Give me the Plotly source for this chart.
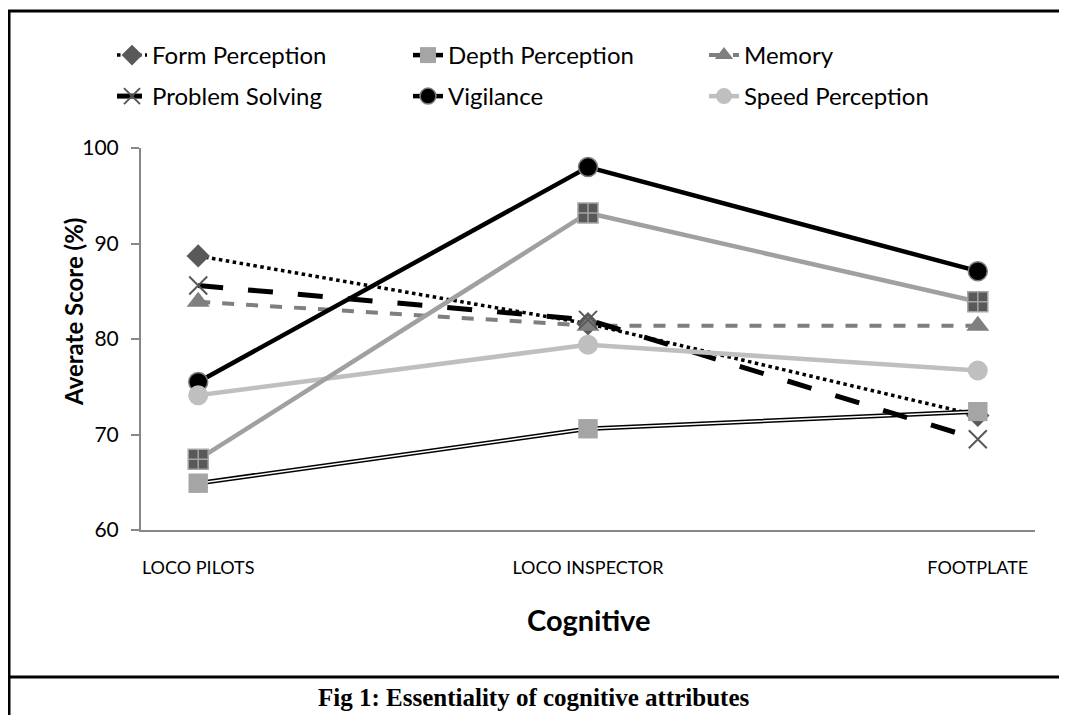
import plotly.graph_objects as go

GROUPS = ["LOCO PILOTS", "LOCO INSPECTOR", "FOOTPLATE"]

FORM_PERCEPTION = [88.7, 81.6, 72.0]
DEPTH_PERCEPTION = [64.9, 70.6, 72.4]
MEMORY = [83.9, 81.4, 81.4]
PROBLEM_SOLVING = [85.6, 82.0, 69.5]
VIGILANCE = [75.5, 98.0, 87.1]
SPEED_PERCEPTION = [74.1, 79.4, 76.7]
UNNAMED = [67.4, 93.2, 83.9]

Y_TICKS = [60, 70, 80, 90, 100]

# the page body adds an 8px margin, so the figure is shrunk by it and
# positions below are given in window pixels, then shifted back
OFF = 8
W, H = 1067 - OFF, 715 - OFF
FONT = "Lato"


def px(x):
    return (x - OFF) / W


def py(y):
    return 1 - (y - OFF) / H


fig = go.Figure()

fig.add_trace(go.Scatter(
    x=GROUPS, y=FORM_PERCEPTION, name="Form Perception", mode="lines+markers",
    line=dict(color="black", width=3.5, dash="dot"),
    marker=dict(symbol="diamond", size=18, color="#595959"),
))
fig.add_trace(go.Scatter(
    x=GROUPS, y=DEPTH_PERCEPTION, name="Depth Perception", mode="lines+markers",
    legendgroup="depth", line=dict(color="black", width=4.5),
    marker=dict(symbol="square", size=19, color="#a5a5a5"),
))
fig.add_trace(go.Scatter(
    x=GROUPS, y=DEPTH_PERCEPTION, mode="lines", legendgroup="depth",
    showlegend=False, hoverinfo="skip", line=dict(color="white", width=1.5),
))
fig.add_trace(go.Scatter(
    x=GROUPS, y=DEPTH_PERCEPTION, mode="markers", legendgroup="depth",
    showlegend=False, marker=dict(symbol="square", size=19, color="#a5a5a5"),
))
fig.add_trace(go.Scatter(
    x=GROUPS, y=MEMORY, name="Memory", mode="lines+markers",
    line=dict(color="#7f7f7f", width=4, dash="dash"),
    marker=dict(symbol="triangle-up", size=20, color="#7f7f7f"),
))
fig.add_trace(go.Scatter(
    x=GROUPS, y=PROBLEM_SOLVING, name="Problem Solving", mode="lines+markers",
    legend="legend2",
    line=dict(color="black", width=5, dash="longdash"),
    marker=dict(symbol="x-thin", size=18, color="#595959",
                line=dict(color="#595959", width=2)),
))
fig.add_trace(go.Scatter(
    x=GROUPS, y=VIGILANCE, name="Vigilance", mode="lines+markers",
    legend="legend2",
    line=dict(color="black", width=4.5),
    marker=dict(symbol="circle", size=19, color="black",
                line=dict(color="#7f7f7f", width=1.5)),
))
fig.add_trace(go.Scatter(
    x=GROUPS, y=SPEED_PERCEPTION, name="Speed Perception", mode="lines+markers",
    legend="legend2",
    line=dict(color="#bfbfbf", width=4.5),
    marker=dict(symbol="circle", size=20, color="#bfbfbf"),
))
fig.add_trace(go.Scatter(
    x=GROUPS, y=UNNAMED, mode="lines+markers", showlegend=False,
    line=dict(color="#a0a0a0", width=4.5),
    marker=dict(symbol="square-cross", size=20, color="#595959",
                line=dict(color="#a5a5a5", width=1.5)),
))

legend_style = dict(
    orientation="h", xanchor="left", yanchor="top",
    entrywidth=251, entrywidthmode="pixels",
    font=dict(size=24, family=FONT), bgcolor="rgba(0,0,0,0)",
)

fig.update_layout(
    width=W, height=H,
    margin=dict(l=0, r=0, t=0, b=0, autoexpand=False),
    paper_bgcolor="white", plot_bgcolor="white",
    font=dict(family=FONT, color="black"),
    showlegend=True,
    legend=dict(x=px(112), y=py(33), **legend_style),
    legend2=dict(x=px(112), y=py(74), **legend_style),
    xaxis=dict(
        domain=[px(141), px(1035)], automargin=False,
        showline=True, linecolor="#878787", linewidth=2,
        ticks="", showgrid=False, tickfont=dict(size=18, family=FONT),
        ticklabelstandoff=20,
    ),
    yaxis=dict(
        domain=[py(530), py(148)], automargin=False,
        range=[60, 100], tickvals=Y_TICKS,
        showline=True, linecolor="#878787", linewidth=2,
        ticks="outside", ticklen=8, tickcolor="#878787", tickwidth=2,
        showgrid=False, zeroline=False, tickfont=dict(size=21, family=FONT),
        ticklabelstandoff=8,
    ),
    shapes=[
        dict(type="line", xref="paper", yref="paper", x0=0, x1=1, y0=py(11), y1=py(11),
             line=dict(color="black", width=3)),
        dict(type="line", xref="paper", yref="paper", x0=px(9), x1=px(9), y0=py(11), y1=0,
             line=dict(color="black", width=3)),
        dict(type="line", xref="paper", yref="paper", x0=0, x1=1, y0=py(677), y1=py(677),
             line=dict(color="black", width=3)),
    ],
    annotations=[
        dict(text="<b>Averate Score (%)</b>", xref="paper", yref="paper",
             x=px(73), y=py(312), xanchor="center", yanchor="middle", textangle=-90,
             showarrow=False, font=dict(size=24, family=FONT, color="black")),
        dict(text="<b>Cognitive</b>", xref="paper", yref="paper",
             x=px(588), y=py(619), xanchor="center", yanchor="middle",
             showarrow=False, font=dict(size=29, family=FONT, color="black")),
        dict(text="<b>Fig 1: Essentiality of cognitive attributes</b>", xref="paper", yref="paper",
             x=px(533), y=py(697), xanchor="center", yanchor="middle", showarrow=False,
             font=dict(family="Liberation Serif", size=25, color="black")),
    ],
)

fig.write_html("out.html")
